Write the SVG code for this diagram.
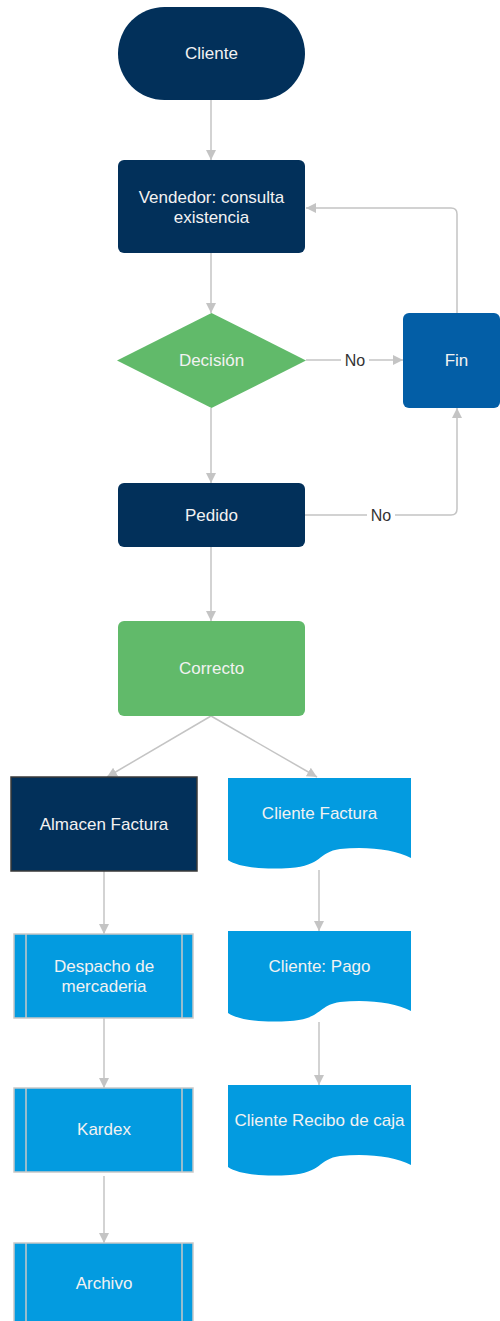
<svg xmlns="http://www.w3.org/2000/svg" width="500" height="1321" viewBox="0 0 500 1321">
<style>
.t{font-family:"Liberation Sans",Arial,sans-serif;font-size:17px;fill:#f2f2f2;text-anchor:middle;dominant-baseline:central}
.lbl{font-family:"Liberation Sans",Arial,sans-serif;font-size:16px;fill:#333;text-anchor:middle;dominant-baseline:central}
.c{fill:none;stroke:#c4c4c4;stroke-width:1.5}
.navy{fill:#02305a}
.doc{fill:#039be0}
.pp{fill:#039be0;stroke:#c8c8c8;stroke-width:1.5}
.ppl{stroke:#c8c8c8;stroke-width:1.5}
</style>
<defs>
<marker id="a" viewBox="0 0 10 10" refX="10" refY="5" markerWidth="10" markerHeight="11" markerUnits="userSpaceOnUse" orient="auto">
<path d="M0,0 L10,5 L0,10 Z" fill="#c4c4c4"/>
</marker>
</defs>
<rect width="500" height="1321" fill="#ffffff"/>
<g id="connectors">
<path class="c" d="M211,100 V160" marker-end="url(#a)"/>
<path class="c" d="M211,253 V313" marker-end="url(#a)"/>
<path class="c" d="M306,360 H403" marker-end="url(#a)"/>
<rect x="341" y="350" width="28" height="20" fill="#fff"/>
<text class="lbl" x="355" y="360">No</text>
<path class="c" d="M457,313 V214 Q457,208 451,208 H306" marker-end="url(#a)"/>
<path class="c" d="M211,408 V483" marker-end="url(#a)"/>
<path class="c" d="M305,515 H451 Q457,515 457,509 V408" marker-end="url(#a)"/>
<rect x="367" y="505" width="28" height="20" fill="#fff"/>
<text class="lbl" x="381" y="515">No</text>
<path class="c" d="M211,547 V621" marker-end="url(#a)"/>
<path class="c" d="M211,716 L107,777" marker-end="url(#a)"/>
<path class="c" d="M211,716 L317,777" marker-end="url(#a)"/>
<path class="c" d="M104,871 V934" marker-end="url(#a)"/>
<path class="c" d="M104,1018 V1088" marker-end="url(#a)"/>
<path class="c" d="M104,1176 V1243" marker-end="url(#a)"/>
<path class="c" d="M319,870 V931" marker-end="url(#a)"/>
<path class="c" d="M319,1022 V1085" marker-end="url(#a)"/>
</g>
<g id="cliente">
<rect class="navy" x="118" y="7" width="187" height="93" rx="46.5"/>
<text class="t" x="211.5" y="53.5">Cliente</text>
</g>
<g id="vendedor">
<rect class="navy" x="118" y="160" width="187" height="93" rx="6"/>
<text class="t" x="211.5" y="197">Vendedor: consulta</text>
<text class="t" x="211.5" y="217">existencia</text>
</g>
<g id="decision">
<polygon points="211.5,313 306,360.5 211.5,408 117,360.5" fill="#61ba6a"/>
<text class="t" x="211.5" y="360.5">Decisión</text>
</g>
<g id="fin">
<rect x="403" y="313" width="97" height="95" rx="6" fill="#035ea6"/>
<text class="t" x="456.5" y="360.5">Fin</text>
</g>
<g id="pedido">
<rect class="navy" x="118" y="483" width="187" height="64" rx="6"/>
<text class="t" x="211.5" y="515">Pedido</text>
</g>
<g id="correcto">
<rect x="118" y="621" width="187" height="95" rx="6" fill="#61ba6a"/>
<text class="t" x="211.5" y="668.5">Correcto</text>
</g>
<g id="almacen">
<rect class="navy" x="11" y="777" width="186" height="94" stroke="#3a3a3a" stroke-width="1.5"/>
<text class="t" x="104" y="824">Almacen Factura</text>
</g>
<g id="clienteFactura">
<path class="doc" d="M228,778 H411 V858 C395,849 365,846 340,849 C318,852 322,866 290,868 C262,870 238,867 228,860 Z"/>
<text class="t" x="319.5" y="813">Cliente Factura</text>
</g>
<g id="despacho">
<rect class="pp" x="14" y="934" width="179" height="84"/>
<line class="ppl" x1="26" y1="934" x2="26" y2="1018"/>
<line class="ppl" x1="182" y1="934" x2="182" y2="1018"/>
<text class="t" x="104" y="966">Despacho de</text>
<text class="t" x="104" y="986">mercaderia</text>
</g>
<g id="clientePago">
<path class="doc" d="M228,931 H411 V1011 C395,1002 365,999 340,1002 C318,1005 322,1019 290,1021 C262,1023 238,1020 228,1013 Z"/>
<text class="t" x="319.5" y="966">Cliente: Pago</text>
</g>
<g id="kardex">
<rect class="pp" x="14" y="1088" width="179" height="84"/>
<line class="ppl" x1="26" y1="1088" x2="26" y2="1172"/>
<line class="ppl" x1="182" y1="1088" x2="182" y2="1172"/>
<text class="t" x="104" y="1129">Kardex</text>
</g>
<g id="clienteRecibo">
<path class="doc" d="M228,1085 H411 V1165 C395,1156 365,1153 340,1156 C318,1159 322,1173 290,1175 C262,1177 238,1174 228,1167 Z"/>
<text class="t" x="319.5" y="1120">Cliente Recibo de caja</text>
</g>
<g id="archivo">
<rect class="pp" x="14" y="1243" width="179" height="84"/>
<line class="ppl" x1="26" y1="1243" x2="26" y2="1327"/>
<line class="ppl" x1="182" y1="1243" x2="182" y2="1327"/>
<text class="t" x="104" y="1283">Archivo</text>
</g>
</svg>
